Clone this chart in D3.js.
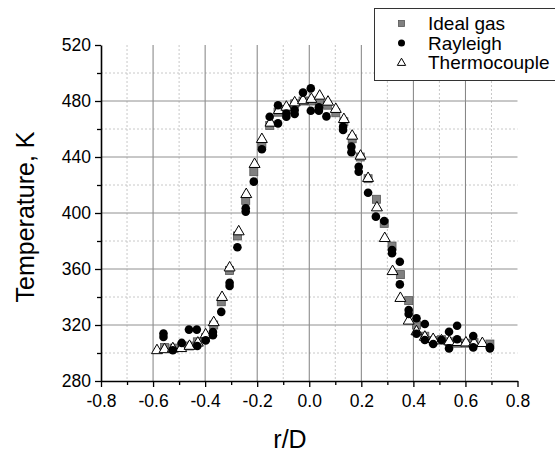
<!DOCTYPE html>
<html>
<head>
<meta charset="utf-8">
<script src="https://cdn.jsdelivr.net/npm/d3@7"></script>
<style>
  body { margin: 0; background: #fff; }
  svg { display: block; font-family: Arial, "Liberation Sans", sans-serif; }
</style>
</head>
<body>
<div id="chart"></div>
<script>
var xTicks = [-0.8, -0.6, -0.4, -0.2, 0.0, 0.2, 0.4, 0.6, 0.8],
    yTicks = [280, 320, 360, 400, 440, 480, 520],
    legendLabels = ["Ideal gas", "Rayleigh", "Thermocouple"];

// [r/D, temperature K]
var idealGas = [
  [-0.556, 304], [-0.52, 303.5], [-0.49, 304.5], [-0.46, 305], [-0.43, 308],
  [-0.398, 311], [-0.367, 320], [-0.338, 336.6], [-0.306, 359], [-0.276, 383.6],
  [-0.244, 409], [-0.213, 429.5], [-0.182, 449.3], [-0.152, 462.5], [-0.12, 472],
  [-0.088, 474], [-0.056, 478], [-0.024, 480], [0.008, 480], [0.04, 479.5],
  [0.07, 477], [0.102, 471.6], [0.133, 465.2], [0.165, 453], [0.196, 440],
  [0.226, 424.5], [0.258, 409.8], [0.288, 392.6], [0.318, 376.4], [0.35, 356],
  [0.382, 337.4], [0.412, 320], [0.444, 312], [0.476, 309], [0.508, 309.5],
  [0.538, 308], [0.568, 307], [0.6, 307], [0.633, 307.4], [0.694, 306.4]
];

var rayleigh = [
  [-0.56, 313.9], [-0.56, 311.5], [-0.524, 302], [-0.49, 307.2], [-0.462, 316.7],
  [-0.432, 316.7], [-0.43, 305], [-0.398, 309], [-0.37, 315], [-0.37, 312.7],
  [-0.338, 329.4], [-0.306, 350.2], [-0.306, 347.9], [-0.276, 375.5], [-0.244, 403.4],
  [-0.244, 401], [-0.213, 422.4], [-0.182, 445.5], [-0.152, 468.8], [-0.12, 477],
  [-0.12, 464], [-0.088, 471], [-0.088, 468.8], [-0.056, 473.6], [-0.056, 470.7],
  [-0.024, 486], [0.006, 489], [0.006, 473], [0.037, 475.5], [0.037, 473],
  [0.066, 469], [0.13, 461.6], [0.13, 459.3], [0.162, 447.4], [0.162, 443.4],
  [0.19, 433], [0.19, 429.5], [0.226, 414.5], [0.256, 397.4], [0.288, 394.3],
  [0.318, 373.6], [0.318, 371.2], [0.348, 365.2], [0.348, 349], [0.382, 330.7],
  [0.382, 327.9], [0.412, 324.8], [0.412, 313.7], [0.444, 320.7], [0.444, 309.3],
  [0.476, 306.4], [0.508, 309.3], [0.537, 315.2], [0.537, 303.3], [0.568, 319.5],
  [0.568, 309.8], [0.63, 312.1], [0.63, 304], [0.694, 304.3], [0.694, 303.2]
];

var thermocouple = [
  [-0.585, 302.5], [-0.556, 303.2], [-0.524, 303.9], [-0.492, 304], [-0.46, 305.6],
  [-0.428, 307.9], [-0.398, 313.8], [-0.367, 322.5], [-0.335, 340.5], [-0.306, 361.6],
  [-0.271, 387.4], [-0.242, 414], [-0.21, 435.5], [-0.182, 453.3], [-0.149, 465],
  [-0.117, 474], [-0.088, 476.4], [-0.056, 479.5], [-0.024, 481], [0.008, 482],
  [0.04, 484.3], [0.072, 480], [0.102, 474.8], [0.133, 467.6], [0.165, 455.7],
  [0.197, 441.4], [0.226, 425.5], [0.26, 404.5], [0.29, 382.6], [0.32, 359],
  [0.35, 339.8], [0.382, 323.6], [0.412, 316], [0.444, 312.1], [0.476, 310.5],
  [0.508, 309.5], [0.538, 308.8], [0.57, 308.3], [0.602, 308], [0.633, 307.8],
  [0.665, 307.6]
];

var width = 555, height = 452;
var plotLeft = 101, plotRight = 517.5, plotTop = 45, plotBottom = 381;

var x = d3.scaleLinear().domain([-0.8, 0.8]).range([plotLeft, plotRight]);
var y = d3.scaleLinear().domain([280, 520]).range([plotBottom, plotTop]);

var svg = d3.select("#chart").append("svg")
    .attr("width", width)
    .attr("height", height);

// minor grid (dotted)
var xMinor = d3.range(-7, 8, 2).map(d => d / 10),
    yMinor = d3.range(300, 520, 40);

svg.append("g").selectAll("line")
  .data(xMinor)
  .join("line")
    .attr("x1", d => x(d)).attr("x2", d => x(d))
    .attr("y1", plotTop).attr("y2", plotBottom)
    .attr("stroke", "#c8c8c8")
    .attr("stroke-dasharray", "2,2");

svg.append("g").selectAll("line")
  .data(yMinor)
  .join("line")
    .attr("x1", plotLeft).attr("x2", plotRight)
    .attr("y1", d => y(d)).attr("y2", d => y(d))
    .attr("stroke", "#c8c8c8")
    .attr("stroke-dasharray", "2,2");

// major grid
svg.append("g").selectAll("line")
  .data(xTicks.slice(1, -1))
  .join("line")
    .attr("x1", d => x(d)).attr("x2", d => x(d))
    .attr("y1", plotTop).attr("y2", plotBottom)
    .attr("stroke", "#808080");

svg.append("g").selectAll("line")
  .data(yTicks.slice(1, -1))
  .join("line")
    .attr("x1", plotLeft).attr("x2", plotRight)
    .attr("y1", d => y(d)).attr("y2", d => y(d))
    .attr("stroke", "#909090");

// axes
var fmt = d => d.toFixed(1);

var xAxis = svg.append("g")
    .attr("transform", `translate(0,${plotBottom})`)
    .call(d3.axisBottom(x).tickValues(xTicks).tickSize(6).tickSizeOuter(0).tickPadding(4)
      .tickFormat(fmt));

svg.append("g")
    .attr("transform", `translate(0,${plotBottom})`)
    .call(d3.axisBottom(x).tickValues(xMinor).tickSize(4).tickFormat(""))
    .call(g => g.select(".domain").remove());

var yAxis = svg.append("g")
    .attr("transform", `translate(${plotLeft},0)`)
    .call(d3.axisLeft(y).tickValues(yTicks).tickSize(6).tickSizeOuter(0).tickPadding(4));

svg.append("g")
    .attr("transform", `translate(${plotLeft},0)`)
    .call(d3.axisLeft(y).tickValues(yMinor).tickSize(4).tickFormat(""))
    .call(g => g.select(".domain").remove());

svg.selectAll(".domain").attr("stroke", "#000").attr("stroke-width", 1.6);
svg.selectAll(".tick line").attr("stroke", "#000").attr("stroke-width", 1.3);
svg.selectAll(".tick text")
    .attr("fill", "#000")
    .style("font-size", "17.5px")
    .style("font-family", "Arial, 'Liberation Sans', sans-serif");
xAxis.selectAll(".tick text").attr("dy", "0.9em");

// axis titles
svg.append("text")
    .attr("x", 290).attr("y", 448)
    .attr("text-anchor", "middle")
    .style("font-size", "25px")
    .text("r/D");

svg.append("text")
    .attr("transform", "translate(34,217) rotate(-90)")
    .attr("text-anchor", "middle")
    .style("font-size", "25px")
    .text("Temperature, K");

// markers
var tri = d3.symbol().type(d3.symbolTriangle).size(52);

svg.append("g").selectAll("rect")
  .data(idealGas)
  .join("rect")
    .attr("x", d => x(d[0]) - 4)
    .attr("y", d => y(d[1]) - 4)
    .attr("width", 8).attr("height", 8)
    .attr("fill", "#808080")
    .attr("stroke", "#555")
    .attr("stroke-width", 0.8);

svg.append("g").selectAll("path")
  .data(thermocouple)
  .join("path")
    .attr("transform", d => `translate(${x(d[0])},${y(d[1]) + 1})`)
    .attr("d", tri)
    .attr("fill", "#fff")
    .attr("stroke", "#000")
    .attr("stroke-width", 1);

svg.append("g").selectAll("circle")
  .data(rayleigh)
  .join("circle")
    .attr("cx", d => x(d[0]))
    .attr("cy", d => y(d[1]))
    .attr("r", 4.3)
    .attr("fill", "#000");

// legend
var legend = svg.append("g");
legend.append("rect")
    .attr("x", 374.5).attr("y", 8.5)
    .attr("width", 200).attr("height", 72)
    .attr("fill", "#fff")
    .attr("stroke", "#333")
    .attr("stroke-width", 1);

var rows = [23.5, 43, 62];
legendLabels.forEach((label, i) => {
  var cx = 401.5, cy = rows[i];
  if (i === 0) {
    legend.append("rect")
        .attr("x", cx - 3).attr("y", cy - 3)
        .attr("width", 6).attr("height", 6)
        .attr("fill", "#808080").attr("stroke", "#555").attr("stroke-width", 0.8);
  } else if (i === 1) {
    legend.append("circle")
        .attr("cx", cx).attr("cy", cy).attr("r", 3.5).attr("fill", "#000");
  } else {
    legend.append("path")
        .attr("transform", `translate(${cx},${cy + 1})`)
        .attr("d", d3.symbol().type(d3.symbolTriangle).size(30))
        .attr("fill", "#fff").attr("stroke", "#000");
  }
  legend.append("text")
      .attr("x", 428).attr("y", cy + 6.5)
      .style("font-size", "19px")
      .text(label);
});
</script>
</body>
</html>
